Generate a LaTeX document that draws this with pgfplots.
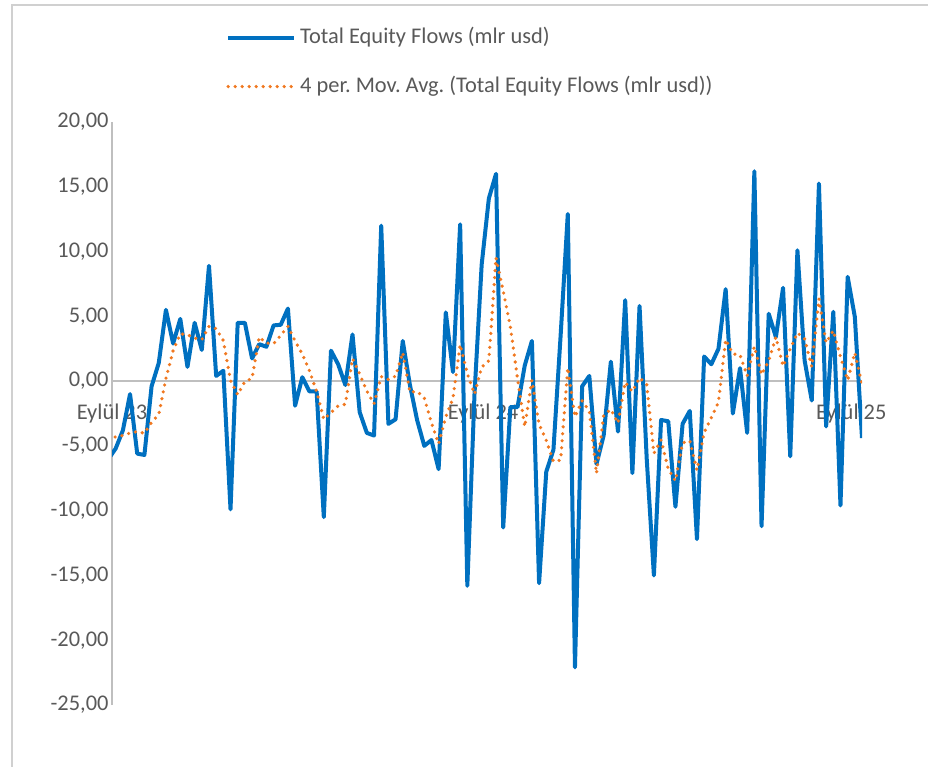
\documentclass[border=0pt]{standalone}
\usepackage{fontspec}
\setmainfont{Carlito}
\usepackage{pgfplots}
\usepackage{pgfplotstable}
\pgfplotsset{compat=1.18}
\definecolor{eqblue}{HTML}{0070C0}
\definecolor{maorange}{HTML}{F07820}
\definecolor{axgray}{HTML}{BFBFBF}
\definecolor{txtgray}{HTML}{595959}
\definecolor{bordergray}{HTML}{D0D0D0}

\pgfplotstableread{
k y ma
-1 -6.0 -4.5
0 -5.2 -4.3
1 -3.8 -4.2
2 -1.0 -4.0
3 -5.6 -3.9
4 -5.7 -4.025
5 -0.4 -3.175
6 1.4 -2.575
7 5.5 0.2
8 2.9 2.35
9 4.8 3.65
10 1.1 3.575
11 4.5 3.325
12 2.4 3.2
13 8.9 4.225
14 0.4 4.05
15 0.8 3.125
16 -9.9 0.05
17 4.5 -1.05
18 4.5 -0.025
19 1.75 0.2125
20 2.85 3.4
21 2.65 2.9375
22 4.3 2.8875
23 4.35 3.5375
24 5.6 4.225
25 -1.9 3.0875
26 0.3 2.0875
27 -0.8 0.8
28 -0.8 -0.8
29 -10.5 -2.95
30 2.35 -2.4375
31 1.3 -1.9125
32 -0.3 -1.7875
33 3.6 1.7375
34 -2.4 0.55
35 -4.0 -0.775
36 -4.2 -1.75
37 12.0 0.35
38 -3.3 0.125
39 -2.95 0.3875
40 3.1 2.2125
41 -0.3 -0.8625
42 -3.0 -0.7875
43 -5.0 -1.3
44 -4.55 -3.2125
45 -6.8 -4.8375
46 5.3 -2.7625
47 0.7 -1.3375
48 12.1 2.825
49 -15.8 0.575
50 -1.0 -1.0
51 9.0 1.075
52 14.1 1.575
53 16.0 9.525
54 -11.3 6.95
55 -2.0 4.2
56 -2.0 0.175
57 1.2 -3.525
58 3.1 0.075
59 -15.6 -3.325
60 -7.0 -4.575
61 -5.3 -6.2
62 3.5 -6.1
63 12.9 1.025
64 -22.1 -2.75
65 -0.4 -1.525
66 0.4 -2.3
67 -6.4 -7.125
68 -4.2 -2.65
69 1.5 -2.175
70 -3.9 -3.25
71 6.25 -0.0875
72 -7.1 -0.8125
73 5.8 0.2625
74 -6.0 -0.2625
75 -15.0 -5.575
76 -3.0 -4.55
77 -3.1 -6.775
78 -9.7 -7.7
79 -3.3 -4.775
80 -2.3 -4.6
81 -12.2 -6.875
82 1.9 -3.975
83 1.3 -2.825
84 2.5 -1.625
85 7.1 3.2
86 -2.5 2.1
87 1.0 2.025
88 -4.0 0.4
89 16.2 2.675
90 -11.2 0.5
91 5.2 1.55
92 3.4 3.4
93 7.2 1.15
94 -5.8 2.5
95 10.1 3.725
96 1.6 3.275
97 -1.5 1.1
98 15.25 6.3625
99 -3.5 2.9625
100 5.35 3.9
101 -9.6 1.875
102 8.05 0.075
103 4.96 2.19
104 -4.4 -0.2475
}\flows

\begin{document}
\frenchspacing
\begin{tikzpicture}
\begin{axis}[
  name=main,
  set layers=standard,
  scale only axis,
  width=750bp, height=583bp,
  xmin=-0.516, xmax=104,
  ymin=-25, ymax=20,
  axis x line*=middle,
  axis y line*=left,
  hide obscured x ticks=false,
  axis line style={axgray, line width=1.4bp},
  xtick={-0.516,51.2,102.5},
  xticklabels={Eylül 23, Eylül 24, Eylül 25},
  ytick={-25,-20,...,20},
  yticklabels={{-25,00},{-20,00},{-15,00},{-10,00},{-5,00},{0,00},{5,00},{10,00},{15,00},{20,00}},
  major tick length=0pt,
  tick label style={font=\fontsize{22.5}{26}\selectfont, text=txtgray},
  xticklabel style={yshift=-19bp},
  yticklabel style={xshift=0bp},
  legend style={at={(0.152,1.1029)}, anchor=west, draw=none, fill=none,
    inner sep=0pt, row sep=20bp,
    font=\fontsize{22.5}{27}\selectfont, text=txtgray,
    nodes={inner sep=4bp, text height=16bp, text depth=5bp}},
  legend cell align=left,
  legend image code/.code={\draw[#1] (0bp,0bp) -- (66bp,0bp);},
]
\addplot[eqblue, line width=4bp, line join=round, mark=none] table[x=k, y=y] {\flows};
\addlegendentry{Total Equity Flows (mlr usd)}
\addplot[maorange, line width=3.6bp, line cap=round, dash pattern=on 0bp off 7bp, mark=none] table[x=k, y=ma] {\flows};
\addlegendentry{4 per. Mov. Avg. (Total Equity Flows (mlr usd))}
\end{axis}
\draw[bordergray, line width=2bp] ([xshift=-100bp,yshift=-70bp]main.south west) -- ++(0,770bp) -- ++(940bp,0);
\pgfresetboundingbox
\path[use as bounding box] ([xshift=-112bp,yshift=-62bp]main.south west) rectangle ++(928bp,767bp);
\end{tikzpicture}
\end{document}
